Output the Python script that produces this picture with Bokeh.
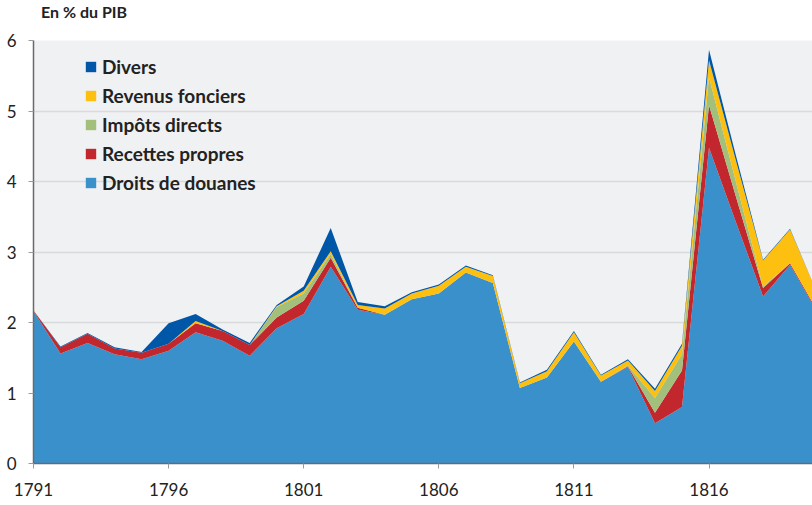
from bokeh.plotting import figure
from bokeh.models import ColumnDataSource, FixedTicker, Legend, LegendItem, Range1d, Div
from bokeh.layouts import column
from bokeh.embed import file_html
from bokeh.resources import INLINE

years = list(range(1791, 1821))
droits_douanes = [2.16, 1.56, 1.71, 1.55, 1.48, 1.60, 1.86, 1.74, 1.53, 1.92,
                  2.12, 2.79, 2.18, 2.11, 2.33, 2.41, 2.71, 2.56, 1.07, 1.22,
                  1.73, 1.16, 1.37, 0.57, 0.80, 4.48, 3.42, 2.37, 2.82, 2.15]
recettes_propres = [0.01, 0.09, 0.13, 0.08, 0.09, 0.10, 0.13, 0.14, 0.15, 0.15,
                    0.19, 0.13, 0.03, 0.00, 0.00, 0.00, 0.00, 0.00, 0.00, 0.00,
                    0.00, 0.00, 0.01, 0.15, 0.52, 0.60, 0.36, 0.12, 0.02, 0.02]
impots_directs = [0.00, 0.00, 0.00, 0.00, 0.00, 0.00, 0.00, 0.00, 0.00, 0.15,
                  0.10, 0.05, 0.00, 0.00, 0.00, 0.00, 0.00, 0.00, 0.00, 0.00,
                  0.00, 0.00, 0.01, 0.21, 0.23, 0.40, 0.21, 0.02, 0.00, 0.00]
revenus_fonciers = [0.00, 0.00, 0.00, 0.00, 0.00, 0.00, 0.03, 0.00, 0.00, 0.01,
                    0.04, 0.04, 0.04, 0.09, 0.08, 0.11, 0.08, 0.10, 0.07, 0.09,
                    0.13, 0.09, 0.07, 0.10, 0.12, 0.24, 0.30, 0.37, 0.48, 0.25]
divers = [0.00, 0.01, 0.01, 0.02, 0.01, 0.29, 0.10, 0.02, 0.03, 0.02,
          0.06, 0.33, 0.04, 0.03, 0.02, 0.02, 0.02, 0.01, 0.01, 0.02,
          0.02, 0.01, 0.02, 0.03, 0.03, 0.15, 0.07, 0.01, 0.01, 0.00]

series_names = ["Droits de douanes", "Recettes propres", "Impôts directs",
                "Revenus fonciers", "Divers"]
series_keys = ["douanes", "recettes", "impots", "revenus", "divers"]
series_colors = ["#3a90cb", "#c1272d", "#a3bf7c", "#fdc010", "#0057a8"]
x_ticks = [1791, 1796, 1801, 1806, 1811, 1816]
y_ticks = [0, 1, 2, 3, 4, 5, 6]

src = ColumnDataSource(dict(year=years, douanes=droits_douanes, recettes=recettes_propres,
                            impots=impots_directs, revenus=revenus_fonciers, divers=divers))

FONT = "Lato"

header = Div(text="En % du PIB", width=812, height=28, margin=0,
             styles={"font-family": FONT, "font-size": "16px", "font-weight": "bold",
                     "color": "#222222", "padding-left": "41px", "padding-top": "1px",
                     "box-sizing": "border-box"})

p = figure(width=812, height=477, output_backend="svg", toolbar_location=None,
           x_range=Range1d(1791, 1819.83), y_range=Range1d(0, 6),
           min_border_left=33, min_border_right=0, min_border_top=12, min_border_bottom=42)
p.margin = 0

p.background_fill_color = "#f0f1f3"
p.border_fill_color = "white"
p.outline_line_color = None

renderers = p.varea_stack(stackers=series_keys, x="year", color=series_colors, source=src)

p.xgrid.grid_line_color = None
p.ygrid.grid_line_color = "#d9dadc"
p.ygrid.grid_line_width = 1.5

p.xaxis.ticker = FixedTicker(ticks=x_ticks)
p.yaxis.ticker = FixedTicker(ticks=y_ticks)
for ax in (p.xaxis, p.yaxis):
    ax.major_label_text_font = FONT
    ax.major_label_text_font_size = "17px"
    ax.major_label_text_color = "#222222"
    ax.minor_tick_line_color = None
    ax.major_tick_in = 0
    ax.major_tick_out = 5
    ax.major_tick_line_color = "#9a9a9a"
    ax.axis_line_color = "#6a6a6a"
    ax.axis_line_width = 1.5
p.yaxis.major_label_standoff = 12
p.xaxis.major_label_standoff = 14

items = []
for i in reversed(range(5)):
    items.append(LegendItem(label=series_names[i], renderers=[renderers[i]]))
legend = Legend(items=items, location=(51, 269))
legend.background_fill_alpha = 0
legend.border_line_color = None
legend.padding = 0
legend.margin = 0
legend.spacing = 6
legend.glyph_width = 13
legend.glyph_height = 13
legend.label_height = 20
legend.label_standoff = 5
legend.label_text_font = FONT
legend.label_text_font_size = "19px"
legend.label_text_font_style = "bold"
legend.label_text_color = "#222222"
p.add_layout(legend, "center")

layout = column(header, p, spacing=0, margin=0)

open("out.html", "w").write(file_html(layout, INLINE))
